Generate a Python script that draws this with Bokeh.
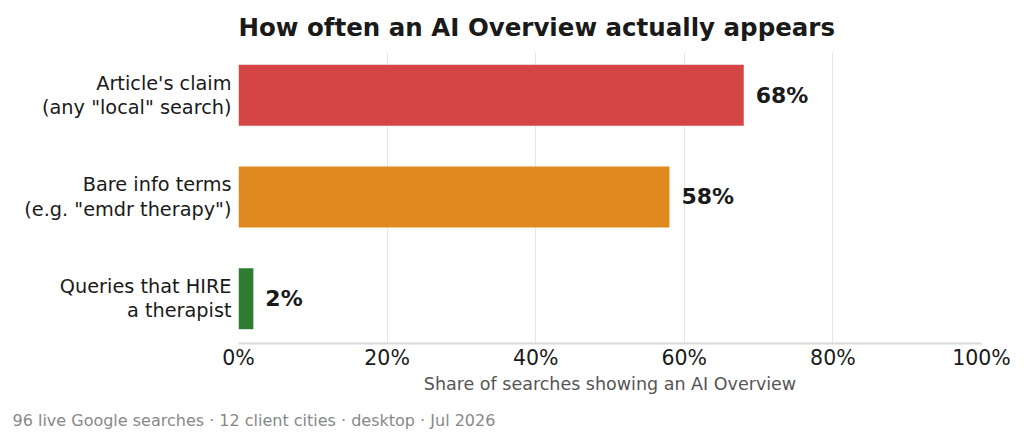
from bokeh.plotting import figure
from bokeh.models import Range1d, FixedTicker, PrintfTickFormatter, Title, ColumnDataSource
from bokeh.embed import file_html
from bokeh.resources import INLINE
from bokeh.core.properties import value

# Data
categories = [
    'Article\'s claim\n(any "local" search)',
    'Bare info terms\n(e.g. "emdr therapy")',
    'Queries that HIRE\na therapist',
]
shares = [68, 58, 2]
bar_colors = ["#d64545", "#e0891f", "#2e7d32"]
x_ticks = [0, 20, 40, 60, 80, 100]

title_text = "How often an AI Overview actually appears"
x_label = "Share of searches showing an AI Overview"
footer_text = "96 live Google searches \u00b7 12 client cities \u00b7 desktop \u00b7 Jul 2026"

FONT = "DejaVu Sans"

positions = list(range(len(categories)))
source = ColumnDataSource(dict(
    y=positions,
    share=shares,
    color=bar_colors,
    label=[f"{v}%" for v in shares],
))

p = figure(
    width=1024, height=442,
    x_range=Range1d(0, 100),
    y_range=Range1d(len(categories) - 1 + 0.44, -0.42),
    output_backend="svg", toolbar_location=None,
    min_border_left=238, min_border_right=43,
    min_border_top=52, min_border_bottom=99,
)
p.outline_line_color = None
p.background_fill_color = "white"
p.border_fill_color = "white"

# Title, left-aligned with the plot frame
p.title.text = title_text
p.title.align = "left"
p.title.text_font = FONT
p.title.text_font_size = "24.5px"
p.title.text_font_style = "bold"
p.title.text_color = "#1a1a1a"
p.title.standoff = 21

# Bars
p.hbar(y="y", left=0, right="share", height=0.6, fill_color="color",
       line_color=None, source=source)

# Value labels at bar ends
p.text(x="share", y="y", text="label", source=source, x_offset=12,
       text_baseline="middle", text_align="left",
       text_font=value(FONT), text_font_size="22px", text_font_style="bold",
       text_color="#1a1a1a")

# Axes
xa = p.xaxis[0]
xa.ticker = FixedTicker(ticks=x_ticks)
xa.formatter = PrintfTickFormatter(format="%d%%")
xa.major_tick_line_color = None
xa.minor_tick_line_color = None
xa.major_tick_out = 0
xa.major_tick_in = 0
xa.minor_tick_out = 0
xa.axis_line_color = "#d9d9d9"
xa.axis_line_width = 2
xa.major_label_text_font = FONT
xa.major_label_text_font_size = "20.5px"
xa.major_label_text_color = "#1a1a1a"
xa.major_label_standoff = 2
xa.axis_label = x_label
xa.axis_label_text_font = FONT
xa.axis_label_text_font_size = "17.5px"
xa.axis_label_text_font_style = "normal"
xa.axis_label_text_color = "#555555"
xa.axis_label_standoff = 1

ya = p.yaxis[0]
ya.ticker = FixedTicker(ticks=positions)
ya.major_label_overrides = {i: c for i, c in zip(positions, categories)}
ya.major_tick_line_color = None
ya.minor_tick_line_color = None
ya.major_tick_out = 0
ya.major_tick_in = 0
ya.minor_tick_out = 0
ya.axis_line_color = None
ya.major_label_text_font = FONT
ya.major_label_text_font_size = "19.3px"
ya.major_label_text_line_height = 1.05
ya.major_label_text_color = "#1a1a1a"
ya.major_label_standoff = 7

p.ygrid.grid_line_color = None
p.xgrid.grid_line_color = "#e6e6e6"
p.xgrid.grid_line_width = 1

# Footer note
footer = Title(text=footer_text, align="left", offset=-226,
               text_font=FONT, text_font_size="16px",
               text_font_style="normal", text_color="#888888")
footer.standoff = 25
p.add_layout(footer, "below")

open("out.html", "w").write(file_html(p, INLINE))
